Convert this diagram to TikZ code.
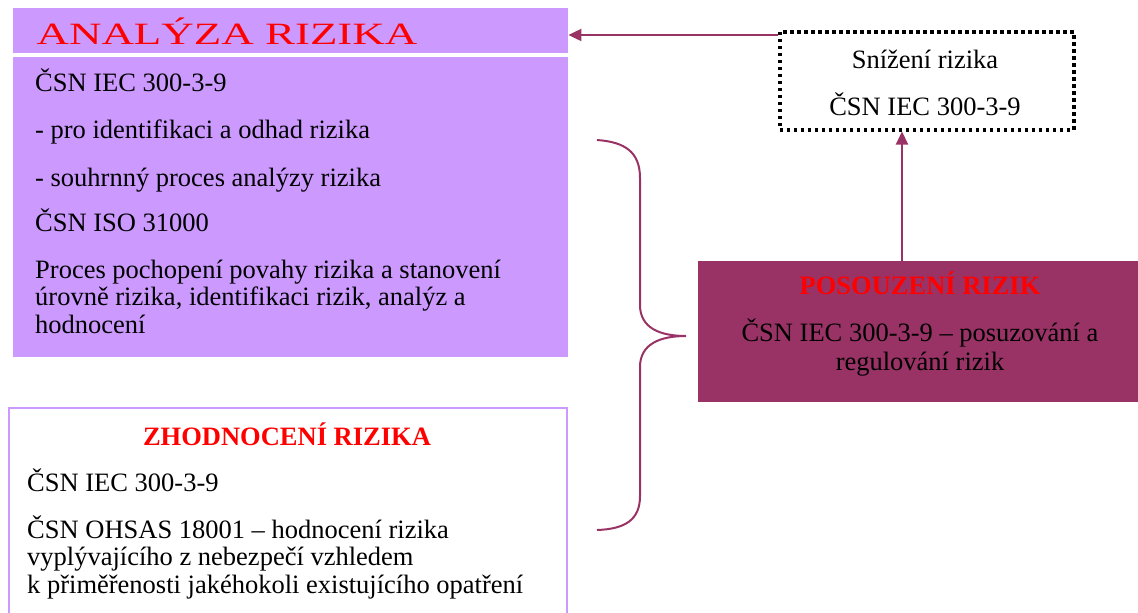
\documentclass[tikz,border=0pt]{standalone}
\usepackage{fontspec}
\setmainfont{Liberation Serif}
\usetikzlibrary{arrows.meta,positioning}
\definecolor{lavender}{HTML}{CC99FF}
\definecolor{plum}{HTML}{993366}

\begin{document}
\begin{tikzpicture}[x=1pt, y=-1pt,
    panel/.style={rectangle, anchor=north west, inner sep=0pt},
    txt/.style={anchor=base west, inner sep=0pt, font=\fontsize{26.5}{28}\selectfont},
    ctxt/.style={anchor=base, inner sep=0pt, font=\fontsize{26.5}{28}\selectfont},
    head/.style={anchor=base, inner sep=0pt, text=red, font=\fontsize{26.5}{28}\selectfont\bfseries},
    arrow/.style={-{Triangle[length=13pt, width=12pt]}, plum, line width=2pt}
]
\useasboundingbox (0,0) rectangle (1138,613);

% Panels
\node[panel, fill=lavender, minimum width=555pt, minimum height=45pt] (analyza) at (13,8) {};
\node[panel, fill=lavender, minimum width=555pt, minimum height=300pt] (analyzabody) at (13,57) {};
\node[panel, draw=lavender, line width=2pt, minimum width=558pt, minimum height=230pt] (zhodnoceni) at (8,407) {};
\node[panel, draw, line width=3.5pt, dash pattern=on 3.5pt off 3.5pt, minimum width=294pt, minimum height=98pt] (snizeni) at (778,30) {};
\node[panel, fill=plum, minimum width=440pt, minimum height=141pt] (posouzeni) at (698,261) {};

% Texts
\node[inner sep=0pt, text=red, font=\fontsize{31}{31}\selectfont] (analyzatitle) at (227,31) {\scalebox{1.45}[1]{ANALÝZA RIZIKA}};
\node[txt] (a1) at (35,91) {ČSN IEC 300-3-9};
\node[txt] (a2) at (35,138) {- pro identifikaci a odhad rizika};
\node[txt] (a3) at (35,186) {- souhrnný proces analýzy rizika};
\node[txt] (a4) at (35,231) {ČSN ISO 31000};
\node[txt] (a5) at (35,278) {Proces pochopení povahy rizika a stanovení};
\node[txt] (a6) at (35,305) {úrovně rizika, identifikaci rizik, analýz a};
\node[txt] (a7) at (35,333) {hodnocení};

\node[head] (zhtitle) at (287,445) {ZHODNOCENÍ RIZIKA};
\node[txt] (z1) at (27,491) {ČSN IEC 300-3-9};
\node[txt] (z2) at (27,538) {ČSN OHSAS 18001 – hodnocení rizika};
\node[txt] (z3) at (27,565) {vyplývajícího z nebezpečí vzhledem};
\node[txt] (z4) at (27,593) {k přiměřenosti jakéhokoli existujícího opatření};

\node[ctxt] (s1) at (925,68) {Snížení rizika};
\node[ctxt] (s2) at (925,115) {ČSN IEC 300-3-9};

\node[head] (potitle) at (920,294) {POSOUZENÍ RIZIK};
\node[ctxt] (p1) at (920,341) {ČSN IEC 300-3-9 – posuzování a};
\node[ctxt] (p2) at (920,370) {regulování rizik};

% Arrows
\draw[arrow] (snizeni.north west |- 0,35) -- (analyza.east |- 0,35);
\draw[arrow] (posouzeni.north -| 902,0) -- (snizeni.south -| 902,0);

% Brace
\draw[plum, line width=2pt] (597,140) .. controls (625,142) and (640,152) .. (640,178)
    -- (640,305) .. controls (640,328) and (660,336) .. (686,336)
    .. controls (660,336) and (640,344) .. (640,367)
    -- (640,496) .. controls (640,520) and (625,529) .. (597,530);
\end{tikzpicture}
\end{document}
